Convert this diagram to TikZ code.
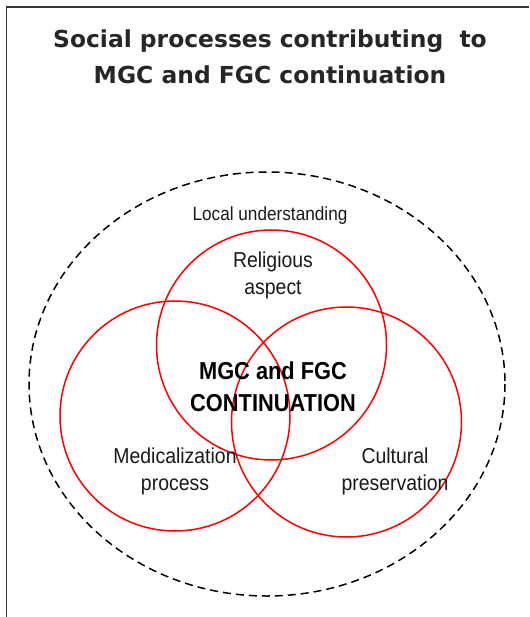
\documentclass[tikz,border=0pt]{standalone}
\usepackage{fontspec}
\setmainfont{Liberation Sans}
\newfontfamily\titlefont{DejaVu Sans}[BoldFont={DejaVu Sans Bold}]
\newfontfamily\labelsans{Liberation Sans}[FakeStretch=0.9]
\newfontfamily\corefont{Liberation Sans Bold}[FakeStretch=0.89]
\begin{document}
\begin{tikzpicture}[x=1pt,y=-1pt,
  frameline/.style={draw=black!78,line width=1.4pt},
  setcircle/.style={circle,draw=red,line width=1.5pt,minimum size=230pt,inner sep=0pt},
  contextline/.style={draw=black,line width=1.5pt,dash pattern=on 8pt off 5pt},
  heading/.style={font={\titlefont\bfseries\fontsize{23.4}{36}\selectfont},text=black!85,anchor=base,inner sep=0pt},
  setlabel/.style={font={\labelsans\fontsize{21.6}{27}\selectfont},text=black!90,align=center,anchor=base,inner sep=0pt},
  corelabel/.style={font={\corefont\fontsize{24.5}{32}\selectfont},text=black,align=center,anchor=base,inner sep=0pt}]
\useasboundingbox (0,0) rectangle (529,617);
% open frame: top and left edges
\coordinate (ftl) at (6.5,7);
\coordinate (ftr) at (529,7);
\coordinate (fbl) at (6.5,617);
\draw[frameline] (ftr) -- (ftl) -- (fbl);
% title
\node[heading] (title1) at (270,48) {Social processes contributing\ \ to};
\node[heading] (title2) at (270,84) {MGC and FGC continuation};
% outer context: local understanding
\draw[contextline] (267,384) ellipse [x radius=238, y radius=212];
\node[setlabel,font={\labelsans\fontsize{19.1}{22}\selectfont}] (local) at (270,221) {Local understanding};
% the three overlapping processes
\node[setcircle] (religious) at (271.5,345) {};
\node[setcircle] (medical) at (175,416) {};
\node[setcircle] (cultural) at (346.5,422) {};
% multi-line labels are anchored at the baseline of their last line
\node[setlabel] (rellab) at (273,294) {Religious\\aspect};
\node[setlabel] (medlab) at (175,490) {Medicalization\\process};
\node[setlabel] (cullab) at (395,490) {Cultural\\preservation};
\node[corelabel] (core) at (273,411) {MGC and FGC\\CONTINUATION};
\end{tikzpicture}
\end{document}
